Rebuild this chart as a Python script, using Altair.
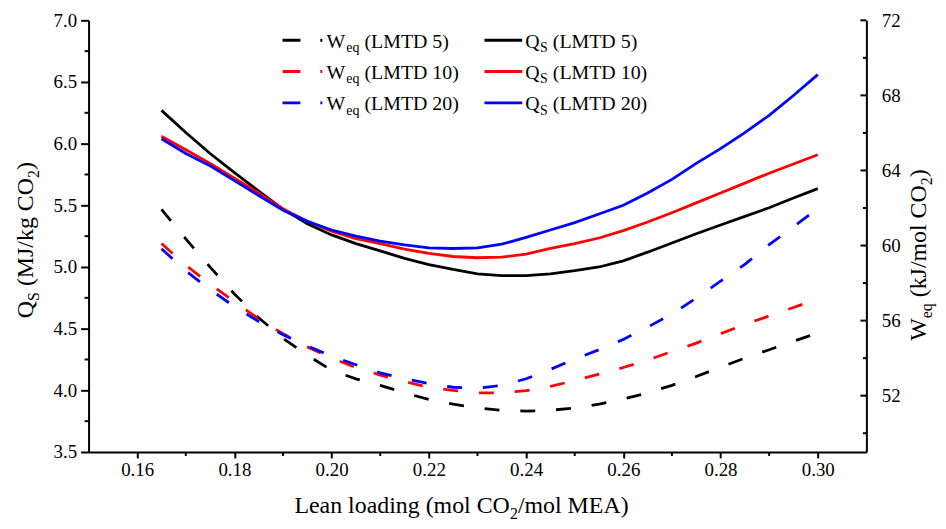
import altair as alt
import pandas as pd

# ---------------- data ----------------
lean_loading = [0.165, 0.170, 0.175, 0.180, 0.185, 0.190, 0.195, 0.200, 0.205, 0.210,
                0.215, 0.220, 0.225, 0.230, 0.235, 0.240, 0.245, 0.250, 0.255, 0.260,
                0.265, 0.270, 0.275, 0.280, 0.285, 0.290, 0.295, 0.300]

qs_lmtd5 = [6.27, 6.09, 5.92, 5.765, 5.615, 5.47, 5.35, 5.26, 5.19, 5.13,
            5.07, 5.02, 4.98, 4.945, 4.93, 4.93, 4.945, 4.97, 5.00, 5.05,
            5.12, 5.195, 5.27, 5.34, 5.41, 5.48, 5.56, 5.635]
qs_lmtd10 = [6.06, 5.95, 5.84, 5.72, 5.60, 5.47, 5.37, 5.29, 5.23, 5.19,
             5.145, 5.11, 5.085, 5.075, 5.08, 5.105, 5.15, 5.19, 5.235, 5.295,
             5.365, 5.44, 5.52, 5.60, 5.68, 5.76, 5.835, 5.91]
qs_lmtd20 = [6.04, 5.92, 5.82, 5.70, 5.58, 5.46, 5.37, 5.30, 5.25, 5.21,
             5.18, 5.155, 5.15, 5.155, 5.185, 5.24, 5.30, 5.36, 5.43, 5.50,
             5.60, 5.71, 5.84, 5.96, 6.09, 6.23, 6.39, 6.56]

weq_lmtd5 = [61.93, 60.35, 58.85, 57.42, 56.15, 55.05, 54.15, 53.35, 52.9, 52.55,
             52.15, 51.8, 51.55, 51.35, 51.22, 51.18, 51.22, 51.35, 51.55, 51.82,
             52.15, 52.55, 53.02, 53.52, 54.0, 54.45, 54.9, 55.34]
weq_lmtd10 = [60.11, 58.95, 57.95, 57.0, 56.1, 55.3, 54.6, 54.0, 53.5, 53.1,
              52.75, 52.45, 52.28, 52.15, 52.15, 52.27, 52.5, 52.8, 53.15, 53.5,
              53.9, 54.35, 54.8, 55.3, 55.8, 56.25, 56.7, 57.15]
weq_lmtd20 = [59.83, 58.65, 57.65, 56.75, 55.95, 55.25, 54.65, 54.1, 53.65, 53.22,
              52.9, 52.65, 52.45, 52.4, 52.55, 52.9, 53.4, 53.95, 54.45, 55.0,
              55.65, 56.35, 57.2, 58.1, 59.0, 60.05, 61.0, 61.97]

series_names = ["LMTD 5", "LMTD 10", "LMTD 20"]
series_colors = ["#000000", "#ff0000", "#0000ff"]

x_ticks = [0.16, 0.18, 0.20, 0.22, 0.24, 0.26, 0.28, 0.30]
x_minor_ticks = [0.17, 0.19, 0.21, 0.23, 0.25, 0.27, 0.29]
qs_ticks = [3.5, 4.0, 4.5, 5.0, 5.5, 6.0, 6.5, 7.0]
qs_minor_ticks = [3.75, 4.25, 4.75, 5.25, 5.75, 6.25, 6.75]
weq_ticks = [52, 56, 60, 64, 68, 72]
weq_minor_ticks = [50, 54, 58, 62, 66, 70]

n = len(lean_loading)
qs_df = pd.DataFrame({
    "lean": lean_loading * 3,
    "value": qs_lmtd5 + qs_lmtd10 + qs_lmtd20,
    "series": [s for s in series_names for _ in range(n)],
})
weq_df = pd.DataFrame({
    "lean": lean_loading * 3,
    "value": weq_lmtd5 + weq_lmtd10 + weq_lmtd20,
    "series": [s for s in series_names for _ in range(n)],
})

# ---------------- layout ----------------
W, H = 782, 434
FONT = "Liberation Serif"
one_row = pd.DataFrame({"k": [0]})

# Times / Liberation Serif advance widths (per 1000 em)
ADV = {' ': 250, '(': 333, ')': 333, '/': 278, '.': 250, 'A': 722, 'C': 667, 'D': 722,
       'E': 611, 'J': 389, 'L': 611, 'M': 889, 'O': 722, 'Q': 722, 'S': 556, 'T': 611,
       'W': 944, 'a': 444, 'd': 500, 'e': 444, 'g': 500, 'i': 278, 'k': 500, 'l': 278,
       'm': 778, 'n': 500, 'o': 500, 'q': 500, 's': 389}


def text_w(s, size):
    return sum(ADV.get(c, 500) for c in s) * size / 1000.0


def text_mark(txt, x, y, size, angle=0, align="left"):
    return alt.Chart(one_row).mark_text(
        text=txt, font=FONT, fontSize=size, align=align, baseline="alphabetic",
        angle=angle, color="black"
    ).encode(x=alt.value(x), y=alt.value(y))


def rich_h(pieces, x0, base):
    """pieces: (text, size, drop, gap_before)"""
    out, cur = [], x0
    for txt, size, drop, gap in pieces:
        cur += gap
        out.append(text_mark(txt, cur, base + drop, size))
        cur += text_w(txt, size)
    return out


def rich_v(pieces, base_x, center_y):
    total = sum(text_w(t, s) + g for t, s, d, g in pieces)
    out, cur = [], center_y + total / 2.0
    for txt, size, drop, gap in pieces:
        cur -= gap
        out.append(text_mark(txt, base_x + drop, cur, size, angle=270))
        cur -= text_w(txt, size)
    return out


x_scale = alt.Scale(domain=[0.15, 0.31], nice=False, zero=False)
qs_scale = alt.Scale(domain=[3.5, 7.0], nice=False, zero=False)
weq_scale = alt.Scale(domain=[49, 72], nice=False, zero=False)
color_scale = alt.Scale(domain=series_names, range=series_colors)

LABEL_SIZE = 19
axis_style = dict(labelFont=FONT, labelFontSize=LABEL_SIZE, labelColor="black",
                  domainColor="black", domainWidth=2, tickColor="black", tickWidth=2,
                  grid=False, title=None)

x_axis = alt.Axis(values=x_ticks, format=".2f", tickSize=6, labelPadding=3,
                  labelFlush=False, **axis_style)

qs_layer = alt.Chart(qs_df).mark_line(strokeWidth=2.8).encode(
    x=alt.X("lean:Q", scale=x_scale, axis=x_axis),
    y=alt.Y("value:Q", scale=qs_scale,
            axis=alt.Axis(values=qs_ticks, format=".1f", tickSize=8, labelPadding=4,
                          **axis_style)),
    color=alt.Color("series:N", scale=color_scale, legend=None),
)

weq_layer = alt.Chart(weq_df).mark_line(strokeWidth=2.8, strokeDash=[15, 21]).encode(
    x=alt.X("lean:Q", scale=x_scale, axis=x_axis),
    y=alt.Y("value:Q", scale=weq_scale,
            axis=alt.Axis(orient="right", values=weq_ticks, format="d",
                          ticks=False, labelPadding=15, **axis_style)),
    color=alt.Color("series:N", scale=color_scale, legend=None),
)

x_minor = alt.Chart(pd.DataFrame({"v": x_minor_ticks})).mark_rule(
    color="black", strokeWidth=2).encode(
    x=alt.X("v:Q", scale=x_scale, axis=x_axis), y=alt.value(H), y2=alt.value(H + 4))

qs_minor = alt.Chart(pd.DataFrame({"v": qs_minor_ticks})).mark_rule(
    color="black", strokeWidth=2).encode(
    y=alt.Y("v:Q", scale=qs_scale, axis=None), x=alt.value(-4), x2=alt.value(0))

weq_major_in = alt.Chart(pd.DataFrame({"v": weq_ticks})).mark_rule(
    color="black", strokeWidth=2).encode(
    y=alt.Y("v:Q", scale=weq_scale, axis=None), x=alt.value(W - 6), x2=alt.value(W))

weq_minor_in = alt.Chart(pd.DataFrame({"v": weq_minor_ticks})).mark_rule(
    color="black", strokeWidth=2).encode(
    y=alt.Y("v:Q", scale=weq_scale, axis=None), x=alt.value(W - 3.5), x2=alt.value(W))

layers = [qs_layer, weq_layer, x_minor, qs_minor, weq_major_in, weq_minor_in]

# ---------------- legend ----------------
row_line = [20, 51.5, 83]
row_base = [27.5, 59, 90.5]
for i, (name, col) in enumerate(zip(series_names, series_colors)):
    layers.append(alt.Chart(one_row).mark_rule(
        color=col, strokeWidth=3, strokeDash=[18, 20]).encode(
        x=alt.value(195), x2=alt.value(235), y=alt.value(row_line[i])))
    layers.append(alt.Chart(one_row).mark_rule(
        color=col, strokeWidth=3).encode(
        x=alt.value(398), x2=alt.value(436), y=alt.value(row_line[i])))
    layers += rich_h([("W", 20, 0, 0), ("eq", 14, 4.5, 1), ("(" + name + ")", 20, 0, 5)],
                     239.3, row_base[i])
    layers += rich_h([("Q", 20, 0, 0), ("S", 14, 4.5, 0.5), ("(" + name + ")", 20, 0, 5)],
                     439, row_base[i])

# ---------------- axis titles ----------------
layers += rich_h([("Lean loading (mol CO", 24, 0, 0), ("2", 16, 6, 0),
                  ("/mol MEA)", 24, 0, 0)], 207, 495)
layers += rich_v([("Q", 24, 0, 0), ("S", 16, 6, 0), ("(MJ/kg CO", 24, 0, 6),
                  ("2", 16, 6, 0), (")", 24, 0, 0)], -56, 221)
layers += rich_v([("W", 24, 0, 0), ("eq", 16, 6, 0), ("(kJ/mol CO", 24, 0, 6),
                  ("2", 16, 6, 0), (")", 24, 0, 0)], 842, 236)

chart = alt.layer(*layers).resolve_scale(y="independent").properties(
    width=W, height=H,
    autosize=alt.AutoSizeParams(type="none"),
    padding={"left": 81, "top": 11, "right": 72, "bottom": 68},
).configure(
    font=FONT, style={"guide-label": {"font": FONT, "fontSize": LABEL_SIZE}}
).configure_view(stroke=None).configure_axis(
    labelFont=FONT, labelFontSize=LABEL_SIZE, labelColor="black", grid=False,
)

chart.save("out.html", embed_options={"renderer": "svg", "actions": False})
